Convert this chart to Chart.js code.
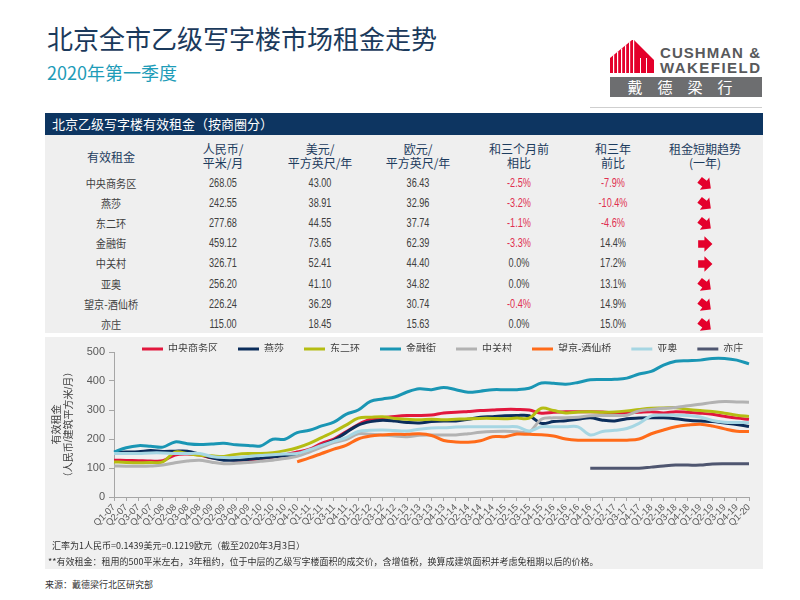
<!DOCTYPE html>
<html><head><meta charset="utf-8">
<script src="https://cdn.jsdelivr.net/npm/chart.js@4.4.1/dist/chart.umd.min.js"></script>
<style>
html,body{margin:0;padding:0;}
body{width:800px;height:600px;background:#fff;position:relative;overflow:hidden;font-family:'Liberation Sans',Arial,'Noto Sans CJK SC',sans-serif;}
.a{position:absolute;white-space:nowrap;}
#title{left:47px;top:25px;font-size:26px;line-height:26px;color:#1b3a5c;font-family:'Noto Sans CJK SC',sans-serif;}
#sub{left:47px;top:63px;font-size:18px;line-height:18px;color:#1e9cb8;font-family:'Noto Sans CJK SC',sans-serif;}
#tbar{left:45px;top:113px;width:718px;height:22px;background:#0d3561;color:#fff;font-size:13px;line-height:22px;font-family:'Noto Sans CJK SC',sans-serif;}
#tbar span{margin-left:7px;}
#tbody{left:45px;top:135px;width:718px;height:198px;background:#efefef;}
.hd{font-family:'Noto Sans CJK SC',sans-serif;font-size:12px;line-height:14px;color:#1d3c5e;text-align:center;width:120px;}
.cell{font-family:'Liberation Sans',Arial,sans-serif;font-size:12px;line-height:14px;color:#404040;text-align:center;width:120px;transform:scaleX(0.76);transform-origin:center;}
.cjk{font-family:'Noto Sans CJK SC',sans-serif;font-size:11px;transform:scaleX(0.92);}
.neg{color:#e0304f;}
#panel{left:45px;top:337px;width:718px;height:232px;background:#f0f0f0;}
#chartbox{left:45px;top:324px;width:718px;height:216px;}
.note{font-family:'Noto Sans CJK SC',sans-serif;font-size:9px;line-height:12px;color:#333;}
</style></head>
<body>
<div class="a" id="title">北京全市乙级写字楼市场租金走势</div>
<div class="a" id="sub">2020年第一季度</div>

<svg class="a" style="left:0;top:0" width="800" height="112">
  <defs>
    <clipPath id="bld"><polygon points="610,73 610,58 632,40 634,40 654,60 654,73"/></clipPath>
  </defs>
  <g clip-path="url(#bld)">
    <rect x="610" y="38" width="44" height="36" fill="#e4002b"/>
    <g fill="#fff">
      <rect x="613" y="38" width="1.2" height="36"/>
      <rect x="617" y="38" width="1.2" height="36"/>
      <rect x="621" y="38" width="1.2" height="36"/>
      <rect x="625" y="38" width="1.2" height="36"/>
      <rect x="629" y="38" width="1.2" height="36"/>
      <rect x="633" y="38" width="1.2" height="36"/>
      <rect x="640" y="58" width="1" height="16"/>
      <rect x="646" y="58" width="1" height="16"/>
    </g>
  </g>
  <text x="660" y="58" font-family="Liberation Sans, Arial, sans-serif" font-weight="bold" font-size="15" fill="#58595b" textLength="100" lengthAdjust="spacing">CUSHMAN &amp;</text>
  <text x="660" y="73" font-family="Liberation Sans, Arial, sans-serif" font-weight="bold" font-size="15" fill="#58595b" textLength="100" lengthAdjust="spacing">WAKEFIELD</text>
  <rect x="610" y="77" width="152" height="20" fill="#6d6e70"/>
  <g font-family="Noto Sans CJK SC, sans-serif" font-size="15" fill="#fff" text-anchor="middle">
    <text x="635" y="93">戴</text><text x="665" y="93">德</text><text x="695" y="93">梁</text><text x="725" y="93">行</text>
  </g>
  <line x1="590" y1="107.5" x2="762" y2="107.5" stroke="#cfcfcf" stroke-width="1"/>
</svg>

<div class="a" id="tbar"><span>北京乙级写字楼有效租金（按商圈分）</span></div>
<div class="a" id="tbody"></div>
<div id="tablecells"></div>

<div class="a" id="panel"></div>
<div class="a" id="chartbox"><canvas id="c" width="718" height="216"></canvas></div>

<div class="a note" style="left:52px;top:540px;">汇率为1人民币=0.1439美元=0.1219欧元（截至2020年3月3日）</div>
<div class="a note" style="left:48px;top:556px;">**有效租金：租用的500平米左右，3年租约，位于中层的乙级写字楼面积的成交价，含增值税，换算成建筑面积并考虑免租期以后的价格。</div>
<div class="a note" style="left:45px;top:579px;">来源：戴德梁行北区研究部</div>

<script>
// ---------- table data ----------
const tableHeaders = [['有效租金'], ['人民币/','平米/月'], ['美元/','平方英尺/年'], ['欧元/','平方英尺/年'], ['和三个月前','相比'], ['和三年','前比'], ['租金短期趋势','(一年)']];
const districts = ['中央商务区','燕莎','东二环','金融街','中关村','亚奥','望京-酒仙桥','亦庄'];
const rentRMB = ['268.05','242.55','277.68','459.12','326.71','256.20','226.24','115.00'];
const rentUSD = ['43.00','38.91','44.55','73.65','52.41','41.10','36.29','18.45'];
const rentEUR = ['36.43','32.96','37.74','62.39','44.40','34.82','30.74','15.63'];
const changeQoQ = ['-2.5%','-3.2%','-1.1%','-3.3%','0.0%','0.0%','-0.4%','0.0%'];
const change3Y = ['-7.9%','-10.4%','-4.6%','14.4%','17.2%','13.1%','14.9%','15.0%'];
const trend = ['down','down','down','right','right','down','down','down'];

// ---------- chart data ----------
const quarters = ['Q1-07','Q2-07','Q3-07','Q4-07','Q1-08','Q2-08','Q3-08','Q4-08','Q1-09','Q2-09','Q3-09','Q4-09',
'Q1-10','Q2-10','Q3-10','Q4-10','Q1-11','Q2-11','Q3-11','Q4-11','Q1-12','Q2-12','Q3-12','Q4-12',
'Q1-13','Q2-13','Q3-13','Q4-13','Q1-14','Q2-14','Q3-14','Q4-14','Q1-15','Q2-15','Q3-15','Q4-15',
'Q1-16','Q2-16','Q3-16','Q4-16','Q1-17','Q2-17','Q3-17','Q4-17','Q1-18','Q2-18','Q3-18','Q4-18',
'Q1-19','Q2-19','Q3-19','Q4-19','Q1-20'];
const seriesNames = ['中央商务区','燕莎','东二环','金融街','中关村','望京-酒仙桥','亚奥','亦庄'];
const seriesColors = ['#e2173d','#0b2d5b','#b5bd12','#1a96b4','#b2b2b2','#ff6b1a','#a6d6e3','#4f5670'];
const cbd = [127,126,125,124,125,145,148,145,135,130,128,128,132,138,145,155,165,185,200,225,250,268,273,278,281,281,283,290,292,295,298,300,302,302,300,289,292,294,294,294,293,290,290,292,294,290,294,292,289,285,278,272,268];
const yansha = [154,155,156,160,157,158,158,148,135,127,127,130,134,138,142,148,160,178,195,222,248,260,265,262,257,255,260,262,262,268,275,277,280,281,280,254,260,263,268,273,265,262,270,272,273,273,270,265,262,260,255,250,243];
const dongerhuan = [121,119,118,119,121,155,150,144,142,140,147,150,150,153,160,170,185,205,225,248,272,275,277,271,268,266,268,266,268,270,271,271,270,272,272,306,298,290,293,294,292,293,297,302,306,307,308,302,298,295,289,282,278];
const jinrongjie = [155,170,177,175,172,190,184,181,183,185,180,178,176,199,199,222,230,245,258,285,300,330,338,345,362,373,370,378,370,361,365,370,370,370,375,393,392,389,395,404,405,406,410,424,433,455,468,470,472,478,478,472,459];
const zhongguancun = [107,106,106,107,110,118,124,127,120,115,116,119,123,127,133,140,155,172,188,198,218,216,214,210,208,213,214,214,214,218,223,226,227,225,224,268,273,273,275,280,281,281,282,297,302,306,309,315,320,326,329,328,327];
const wangjing = [null,null,null,null,null,null,null,null,null,null,null,null,null,null,null,121,135,150,165,178,200,210,214,216,216,218,212,195,190,189,194,208,208,217,216,215,210,200,196,196,196,196,196,200,218,231,242,248,251,245,235,227,226];
const yaao = [150,150,150,152,152,150,150,150,140,136,136,140,143,146,148,150,163,178,192,205,226,230,231,229,228,234,238,239,241,242,242,242,242,242,228,242,242,242,242,214,226,230,236,254,280,283,282,281,276,264,258,257,256];
const yizhuang = [null,null,null,null,null,null,null,null,null,null,null,null,null,null,null,null,null,null,null,null,null,null,null,null,null,null,null,null,null,null,null,null,null,null,null,null,null,null,null,99,99,99,99,99,103,107,110,110,110,114,115,115,115];
const seriesValues = [cbd, yansha, dongerhuan, jinrongjie, zhongguancun, wangjing, yaao, yizhuang];
const yTicks = {min:0, max:500, step:50};

// ---------- build table ----------
const colX = [111, 223, 320, 418, 519, 613, 705];
const cells = document.getElementById('tablecells');
function addDiv(cls, left, top, html){
  const d = document.createElement('div'); d.className = 'a ' + cls;
  d.style.left = left + 'px'; d.style.top = top + 'px'; d.innerHTML = html; cells.appendChild(d); return d;
}
tableHeaders.forEach((h, i) => {
  const top = h.length === 1 ? 150 : 142;
  addDiv('hd', colX[i] - 60, top, h.join('<br>'));
});
const arrowSvg = (dir) => '<svg width="16" height="16" viewBox="0 0 14 14"><path d="M1 3.8 H6.5 V0.3 L13.5 7 L6.5 13.7 V10.2 H1 Z" fill="#e4002b"' + (dir === 'down' ? ' transform="rotate(38 7 7)"' : '') + '/></svg>';
districts.forEach((name, r) => {
  const cy = 183 + r * 20.1;
  const top = cy - 7;
  addDiv('cell cjk', colX[0] - 60, top, name);
  addDiv('cell', colX[1] - 60, top, rentRMB[r]);
  addDiv('cell', colX[2] - 60, top, rentUSD[r]);
  addDiv('cell', colX[3] - 60, top, rentEUR[r]);
  addDiv('cell' + (changeQoQ[r].startsWith('-') ? ' neg' : ''), colX[4] - 60, top, changeQoQ[r]);
  addDiv('cell' + (change3Y[r].startsWith('-') ? ' neg' : ''), colX[5] - 60, top, change3Y[r]);
  const ad = addDiv('', colX[6] - 8, cy - 7, arrowSvg(trend[r]));
  ad.style.lineHeight = '0';
});

// ---------- chart ----------
Chart.defaults.font.family = "'Liberation Sans', Arial, 'Noto Sans CJK SC', sans-serif";
const LEGEND_H = 28;
const LEGEND_LEFT = 77;
const legendTweak = {
  id: 'legendTweak',
  afterInit(chart) {
    const lg = chart.legend;
    if (!lg) return;
    const fit = lg.fit.bind(lg);
    lg.fit = function () { fit(); this.height = LEGEND_H; };
  },
  afterLayout(chart) {
    const lg = chart.legend;
    if (!lg) return;
    const w = lg.right - lg.left;
    lg.left = LEGEND_LEFT; lg.right = LEGEND_LEFT + w;
  }
};

const datasets = seriesNames.map((name, i) => ({
  label: name,
  data: seriesValues[i],
  borderColor: seriesColors[i],
  backgroundColor: seriesColors[i],
  borderWidth: 3,
  pointRadius: 0,
  tension: 0.35,
  spanGaps: false,
  order: seriesNames.length - i
}));

new Chart(document.getElementById('c'), {
  type: 'line',
  data: { labels: quarters, datasets },
  options: {
    responsive: false,
    animation: false,
    layout: { padding: { left: 0, right: 14, top: 0, bottom: 0 } },
    plugins: {
      legend: {
        display: true, position: 'top', align: 'start',
        labels: {
          usePointStyle: true, pointStyle: 'line', pointStyleWidth: 21,
          boxHeight: 10, padding: 20, color: '#404040',
          font: { size: 10 },
          sort: (a, b) => a.datasetIndex - b.datasetIndex
        }
      },
      tooltip: { enabled: false }
    },
    scales: {
      x: {
        offset: false,
        grid: { drawOnChartArea: false, drawTicks: true, tickLength: 4, color: '#a6a6a6' },
        border: { color: '#a6a6a6' },
        ticks: { autoSkip: false, minRotation: 45, maxRotation: 45, padding: 1, color: '#595959', font: { size: 9.5 } },
        afterFit(s) { s.height = 43; }
      },
      y: {
        min: yTicks.min, max: yTicks.max,
        grid: { drawOnChartArea: false, drawTicks: true, tickLength: 5, color: '#a6a6a6' },
        border: { color: '#a6a6a6' },
        ticks: { stepSize: yTicks.step, padding: 4, color: '#595959', font: { size: 11 } },
        title: { display: true, text: ['有效租金', '（人民币/建筑平方米/月）'], color: '#404040', font: { size: 10 }, padding: { top: 6, bottom: 0 } },
        afterFit(s) { s.width = 69; }
      }
    }
  },
  plugins: [legendTweak]
});
</script>
</body></html>
